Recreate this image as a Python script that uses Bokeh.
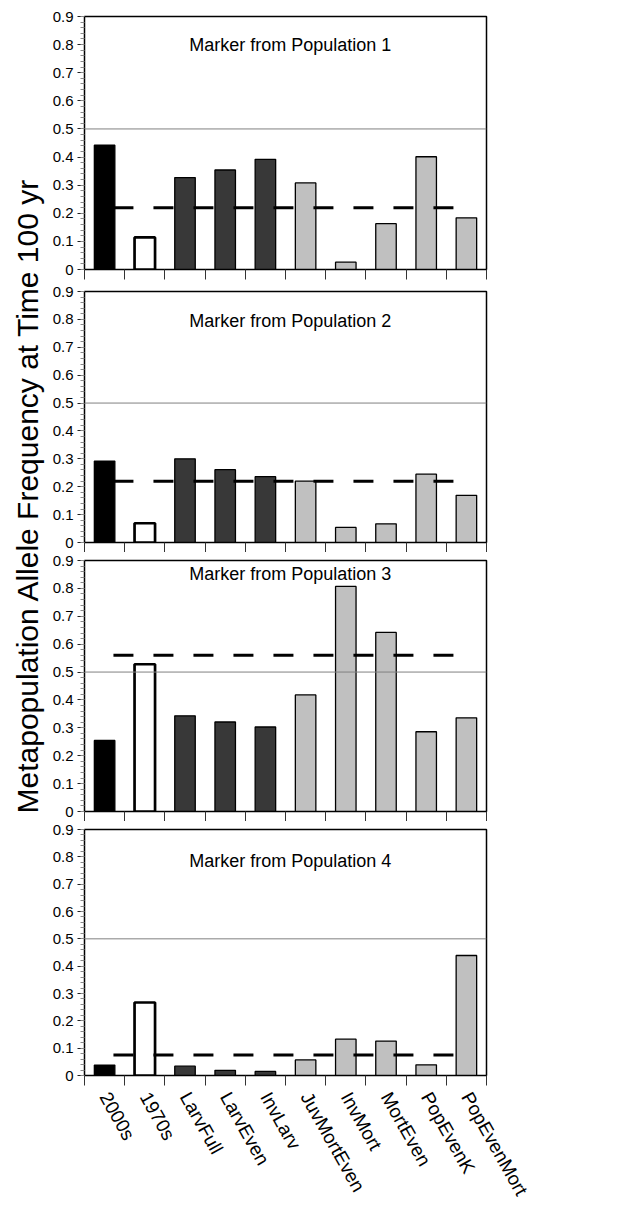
import math
from bokeh.plotting import figure
from bokeh.models import ColumnDataSource, Range1d, FixedTicker, Span, Label
from bokeh.layouts import row, column
from bokeh.embed import file_html
from bokeh.resources import INLINE

# ---------------- data ----------------
categories = ["2000s", "1970s", "LarvFull", "LarvEven", "InvLarv",
              "JuvMortEven", "InvMort", "MortEven", "PopEvenK", "PopEvenMort"]
pop1 = [0.442, 0.114, 0.327, 0.354, 0.392, 0.308, 0.026, 0.163, 0.401, 0.184]
pop2 = [0.292, 0.069, 0.300, 0.261, 0.236, 0.220, 0.054, 0.067, 0.245, 0.169]
pop3 = [0.255, 0.528, 0.343, 0.321, 0.303, 0.418, 0.807, 0.642, 0.286, 0.336]
pop4 = [0.038, 0.267, 0.034, 0.019, 0.015, 0.057, 0.133, 0.126, 0.039, 0.439]
panel_values = [pop1, pop2, pop3, pop4]
panel_titles = ["Marker from Population 1", "Marker from Population 2",
                "Marker from Population 3", "Marker from Population 4"]
reference_levels = [0.22, 0.22, 0.56, 0.075]
reference_extent = [0.72, 9.2]
threshold = 0.5
y_ticks = [0, 0.1, 0.2, 0.3, 0.4, 0.5, 0.6, 0.7, 0.8, 0.9]
y_tick_labels = ["0", "0.1", "0.2", "0.3", "0.4", "0.5", "0.6", "0.7", "0.8", "0.9"]
y_title = "Metapopulation Allele Frequency at Time 100 yr"

# ---------------- style ----------------
bar_colors = ["#000000", "#ffffff", "#383838", "#383838", "#383838",
              "#c0c0c0", "#c0c0c0", "#c0c0c0", "#c0c0c0", "#c0c0c0"]
bar_line_widths = [1.3, 2.7, 1.3, 1.3, 1.3, 1.3, 1.3, 1.3, 1.3, 1.3]
title_y = [0.80, 0.793, 0.853, 0.786]
FONT = "Liberation Sans"

borders = [(16, 12), (10, 9), (8, 9), (8, 126)]
frame_heights = [253, 252, 252, 252]

centers = [i + 0.5 for i in range(len(categories))]
boundaries = list(range(len(categories) + 1))
minor_y = [round(k * 0.02, 2) for k in range(46)]

figs = []
for idx, vals in enumerate(panel_values):
    top_b, bot_b = borders[idx]
    h = top_b + frame_heights[idx] + bot_b
    p = figure(width=490, height=h, x_range=Range1d(0, 10), y_range=Range1d(0, 0.9),
               toolbar_location=None, output_backend="svg",
               min_border_left=38, min_border_right=50,
               min_border_top=top_b, min_border_bottom=bot_b)
    p.xgrid.visible = False
    p.ygrid.visible = False
    p.outline_line_color = "black"
    p.outline_line_width = 1.5
    p.background_fill_color = "white"
    p.border_fill_color = "white"

    src = ColumnDataSource(dict(x=centers, top=vals, color=bar_colors,
                                lw=bar_line_widths, cat=categories))
    p.vbar(x="x", top="top", bottom=0, width=0.51, source=src,
           fill_color="color", line_color="black", line_width="lw")

    p.add_layout(Span(location=threshold, dimension="width",
                      line_color="#808080", line_width=1))

    lvl = reference_levels[idx]
    p.line(x=reference_extent, y=[lvl, lvl], line_color="black", line_width=3,
           line_dash="20 20", line_cap="butt")

    p.add_layout(Label(x=5.12, y=title_y[idx], text=panel_titles[idx],
                       text_align="center", text_baseline="middle",
                       text_font=FONT, text_font_size="18px", text_color="black"))

    # y axis
    ya = p.yaxis[0]
    ya.ticker = FixedTicker(ticks=y_ticks, minor_ticks=minor_y)
    ya.major_label_overrides = {t: l for t, l in zip(y_ticks, y_tick_labels)}
    ya.major_label_text_font = FONT
    ya.major_label_text_font_size = "15px"
    ya.major_label_text_color = "black"
    ya.major_tick_out = 7
    ya.major_tick_in = 0
    ya.minor_tick_out = 4
    ya.minor_tick_in = 0
    ya.major_tick_line_color = "#222222"
    ya.minor_tick_line_color = "#888888"
    ya.axis_line_color = "black"
    ya.major_label_standoff = 4

    # x axis
    xa = p.xaxis[0]
    xa.major_tick_out = 0
    xa.major_tick_in = 0
    xa.minor_tick_out = 10
    xa.minor_tick_in = 0
    xa.minor_tick_line_color = "#333333"
    xa.axis_line_color = "black"
    if idx == 3:
        xa.ticker = FixedTicker(ticks=centers, minor_ticks=boundaries)
        xa.major_label_overrides = {c: n for c, n in zip(centers, categories)}
        xa.major_label_orientation = -1.06
        xa.major_label_text_font = FONT
        xa.major_label_text_font_size = "19px"
        xa.major_label_text_color = "black"
        xa.major_label_standoff = 8
    else:
        xa.ticker = FixedTicker(ticks=[], minor_ticks=boundaries)
        xa.major_label_standoff = 0
    figs.append(p)

total_h = sum(b[0] + b[1] + fh for b, fh in zip(borders, frame_heights))
tf = figure(width=46, height=total_h, x_range=Range1d(0, 1), y_range=Range1d(0, 1),
            toolbar_location=None, output_backend="svg", min_border=0)
tf.axis.visible = False
tf.grid.visible = False
tf.outline_line_color = None
tf.add_layout(Label(x=27, y=total_h - 495, x_units="screen", y_units="screen",
                    text=y_title, angle=math.pi / 2, text_align="center",
                    text_baseline="alphabetic", text_font=FONT,
                    text_font_size="30px", text_color="black"))

layout = row(tf, column(*figs))
open("out.html", "w").write(file_html(layout, INLINE))
